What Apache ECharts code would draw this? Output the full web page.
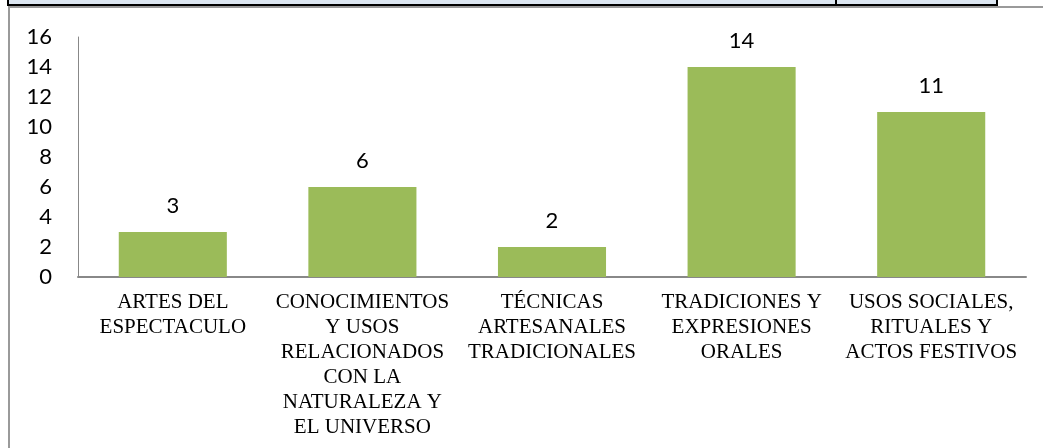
<!DOCTYPE html>
<html>
<head>
<meta charset="utf-8">
<script src="https://cdn.jsdelivr.net/npm/echarts@6/dist/echarts.min.js"></script>
<style>
  html, body { margin: 0; padding: 0; background: #ffffff; }
  #chart { width: 1043px; height: 448px; }
</style>
</head>
<body>
<div id="chart"></div>
<script>
// Patrimonio cultural inmaterial por ámbito
const categories = [
  'ARTES DEL\nESPECTACULO',
  'CONOCIMIENTOS\nY USOS\nRELACIONADOS\nCON LA\nNATURALEZA Y\nEL UNIVERSO',
  'TÉCNICAS\nARTESANALES\nTRADICIONALES',
  'TRADICIONES Y\nEXPRESIONES\nORALES',
  'USOS SOCIALES,\nRITUALES Y\nACTOS FESTIVOS'
];
const values = [3, 6, 2, 14, 11];
const yTicks = [0, 2, 4, 6, 8, 10, 12, 14, 16];

const chart = echarts.init(document.getElementById('chart'));

chart.setOption({
  animation: false,
  backgroundColor: '#ffffff',
  grid: { left: 78, right: 17, top: 37, bottom: 171 },
  xAxis: {
    type: 'category',
    data: categories,
    axisLine: { lineStyle: { color: '#888888', width: 2 } },
    axisTick: { show: false },
    axisLabel: {
      interval: 0,
      margin: 13,
      color: '#000000',
      fontFamily: '"Liberation Serif", "Times New Roman", serif',
      fontSize: 21,
      lineHeight: 25
    }
  },
  yAxis: {
    type: 'value',
    min: yTicks[0],
    max: yTicks[yTicks.length - 1],
    interval: 2,
    splitLine: { show: false },
    axisLine: { show: true, lineStyle: { color: '#888888', width: 1 } },
    axisTick: { show: false },
    axisLabel: {
      margin: 26,
      color: '#000000',
      fontFamily: 'Lato, "Open Sans", sans-serif',
      fontSize: 22
    }
  },
  series: [{
    type: 'bar',
    data: values,
    barCategoryGap: '43%',
    itemStyle: { color: '#9BBB59' },
    label: {
      show: true,
      position: 'top',
      distance: 15,
      color: '#000000',
      fontFamily: 'Lato, "Open Sans", sans-serif',
      fontSize: 22
    }
  }],
  graphic: [
    // gray outer frame
    { type: 'line', shape: { x1: 9, y1: 7, x2: 1043, y2: 7 }, style: { stroke: '#9a9a9a', lineWidth: 2 } },
    { type: 'line', shape: { x1: 9, y1: 6, x2: 9, y2: 448 }, style: { stroke: '#9a9a9a', lineWidth: 2 } },
    // table row strip along the top
    { type: 'rect', shape: { x: 8, y: -2, width: 989, height: 7 }, style: { fill: '#DCE6F1', stroke: '#000000', lineWidth: 2 } },
    { type: 'line', shape: { x1: 836, y1: 0, x2: 836, y2: 5 }, style: { stroke: '#000000', lineWidth: 2 } }
  ]
});
</script>
</body>
</html>
